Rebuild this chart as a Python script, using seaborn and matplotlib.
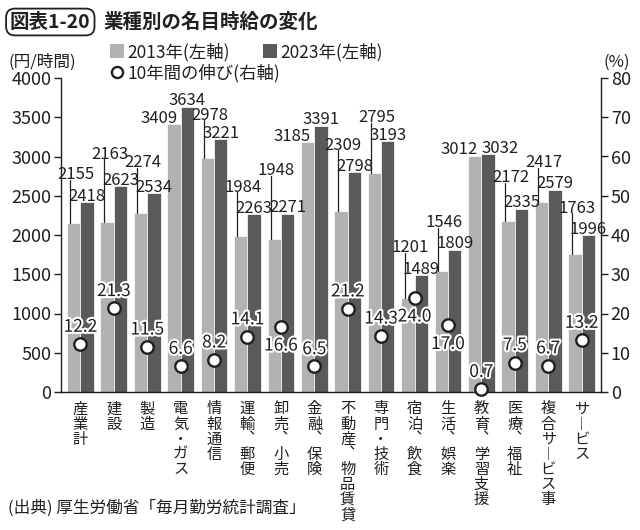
import numpy as np
import pandas as pd
import seaborn as sns
import matplotlib.pyplot as plt
import matplotlib.patheffects as pe
from matplotlib.lines import Line2D

# データ
industries = ['産業計', '建設', '製造', '電気・ガス', '情報通信', '運輸、郵便', '卸売、小売',
              '金融、保険', '不動産、物品賃貸', '専門・技術', '宿泊、飲食', '生活、娯楽',
              '教育、学習支援', '医療、福祉', '複合サービス事', 'サービス']
wage_2013 = [2155, 2163, 2274, 3409, 2978, 1984, 1948, 3185, 2309, 2795, 1201, 1546, 3012, 2172, 2417, 1763]
wage_2023 = [2418, 2623, 2534, 3634, 3221, 2263, 2271, 3391, 2798, 3193, 1489, 1809, 3032, 2335, 2579, 1996]
growth_pct = [12.2, 21.3, 11.5, 6.6, 8.2, 14.1, 16.6, 6.5, 21.2, 14.3, 24.0, 17.0, 0.7, 7.5, 6.7, 13.2]
series = ['2013年(左軸)', '2023年(左軸)']
growth_label = '10年間の伸び(右軸)'

LIGHT = '#b2b2b2'
DARK = '#5a5a5a'
INK = '#231f20'
NUM_FONT = ['Liberation Sans Narrow', 'Noto Sans CJK JP', 'DejaVu Sans']

sns.set_theme(style='white')
plt.rcParams['font.family'] = ['Noto Sans CJK JP', 'DejaVu Sans']
plt.rcParams['text.color'] = INK

n = len(industries)
df = pd.DataFrame({
    '業種': industries * 2,
    '時給': wage_2013 + wage_2023,
    '年': [series[0]] * n + [series[1]] * n,
})

fig = plt.figure(figsize=(6.4, 5.3), dpi=100)
ax = fig.add_axes([61 / 640, 138 / 530, 540 / 640, 314 / 530])
sns.barplot(data=df, x='業種', y='時給', hue='年', palette=[LIGHT, DARK],
            width=0.8, saturation=1, edgecolor='white', linewidth=0.5,
            ax=ax, legend=False)
ax.set_xlim(-0.58, n - 1 + 0.58)
ax.set_ylim(0, 4000)
ax.set_yticks(range(0, 4001, 500))
ax.set_xlabel('')
ax.set_ylabel('')

# 縦書きラベル
def tate(s):
    return '\n'.join(s.replace('、', '︑').replace('ー', '︱'))

ax.set_xticks(range(n))
ax.set_xticklabels([tate(s) for s in industries], rotation=0, va='top',
                   linespacing=0.86, fontsize=11)

# 右軸：伸び率
ax2 = ax.twinx()
sns.scatterplot(x=np.arange(n), y=growth_pct, ax=ax2, marker='o', s=80,
                facecolor='white', edgecolor=INK, linewidth=1.7, zorder=5,
                clip_on=False, legend=False)
ax2.set_ylim(0, 80)
ax2.set_yticks(range(0, 81, 10))
ax2.set_xlim(ax.get_xlim())

for a in (ax, ax2):
    for s in a.spines.values():
        s.set_visible(False)
        s.set_color(INK)
        s.set_linewidth(1.0)
ax.spines['left'].set_visible(True)
ax.spines['bottom'].set_visible(True)
ax2.spines['right'].set_visible(True)
ax.tick_params(axis='y', direction='out', length=5, width=1, color=INK,
               labelsize=13, pad=2, labelcolor=INK)
ax.tick_params(axis='x', length=0, pad=6, labelcolor=INK)
ax2.tick_params(axis='y', direction='out', length=5, width=1, color=INK,
                labelsize=13, pad=2, labelcolor=INK)

# 棒の数値ラベル
lift = {1: 60, 2: 45, 4: -40, 6: 200, 9: -40, 13: 50}
for i in range(n):
    v13, v23 = wage_2013[i], wage_2023[i]
    if v13 > 3000:
        ax.text(i - 0.1, v13 + 15, f'{v13}', ha='right', va='baseline',
                fontsize=12, family=NUM_FONT)
        if v23 - v13 < 100:
            ax.text(i + 0.01, v23 + 15, f'{v23}', ha='left', va='baseline',
                    fontsize=12, family=NUM_FONT)
        else:
            ax.text(i + 0.2, v23 + 25, f'{v23}', ha='center', va='baseline',
                    fontsize=12, family=NUM_FONT)
    else:
        ly = v23 + 290 + lift.get(i, 0)
        ax.plot([i - 0.3, i - 0.3], [v13, ly - 10], color=INK, lw=0.9)
        ax.text(i - 0.13, ly, f'{v13}', ha='center', va='baseline',
                fontsize=12, family=NUM_FONT)
        ax.text(i + 0.2, v23 + 20, f'{v23}', ha='center', va='baseline',
                fontsize=12, family=NUM_FONT)

# 伸び率ラベル
below = {6, 10, 11}
halo = [pe.withStroke(linewidth=3, foreground='white')]
for i, g in enumerate(growth_pct):
    if i in below:
        ax2.annotate(f'{g:.1f}', (i, g), xytext=(0, -7), textcoords='offset points',
                     ha='center', va='top', fontsize=12.5, family=NUM_FONT,
                     path_effects=halo, zorder=6)
    else:
        ax2.annotate(f'{g:.1f}', (i, g), xytext=(0, 6), textcoords='offset points',
                     ha='center', va='bottom', fontsize=12.5, family=NUM_FONT,
                     path_effects=halo, zorder=6)

# 凡例（1行目：棒、2行目：丸）
sq_light = Line2D([], [], marker='s', ls='', markersize=10, markerfacecolor=LIGHT, markeredgewidth=0)
sq_dark = Line2D([], [], marker='s', ls='', markersize=10, markerfacecolor=DARK, markeredgewidth=0)
circ = Line2D([], [], marker='o', ls='', markersize=8, markerfacecolor='white',
              markeredgecolor=INK, markeredgewidth=1.7)
fig.legend([sq_light, sq_dark], series, ncol=2, loc='center left',
           bbox_to_anchor=(110 / 640, 1 - 52 / 530), frameon=False, fontsize=12.5,
           handlelength=0.8, handletextpad=0.2, columnspacing=1.9, borderpad=0,
           borderaxespad=0)
fig.legend([circ], [growth_label], loc='center left',
           bbox_to_anchor=(110 / 640, 1 - 73 / 530), frameon=False, fontsize=12.5,
           handlelength=0.8, handletextpad=0.2, borderpad=0, borderaxespad=0)

# タイトル・注記
fig.text(10 / 640, 1 - 22 / 530, '図表1-20', fontsize=14, fontweight='bold',
         va='center', ha='left',
         bbox=dict(boxstyle='round,pad=0.2,rounding_size=0.45', fc='white', ec=INK, lw=1.3))
fig.text(103 / 640, 1 - 22 / 530, '業種別の名目時給の変化', fontsize=14,
         fontweight='bold', va='center', ha='left')
fig.text(8 / 640, 1 - 62 / 530, '(円/時間)', fontsize=12, va='center', ha='left')
fig.text(617 / 640, 1 - 62 / 530, '(%)', fontsize=12, va='center', ha='center')
fig.text(8 / 640, 1 - 508 / 530, '(出典) 厚生労働省「毎月勤労統計調査」', fontsize=12,
         va='center', ha='left')

fig.savefig('out.png', dpi=100, facecolor='white')
